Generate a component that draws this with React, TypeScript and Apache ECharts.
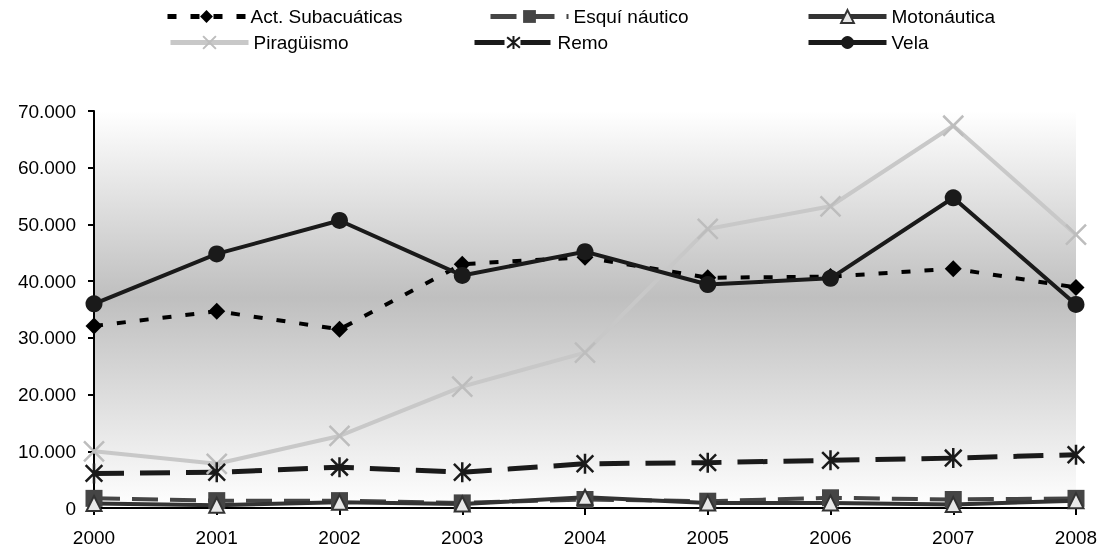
import React, { useEffect, useRef } from "react";
import * as echarts from "echarts";

const years = ["2000", "2001", "2002", "2003", "2004", "2005", "2006", "2007", "2008"];
const actSub = [32100, 34700, 31500, 43000, 44200, 40600, 40800, 42200, 38900];
const esqui = [1700, 1300, 1300, 900, 1500, 1200, 1800, 1500, 1700];
const moto = [800, 500, 1000, 700, 1900, 900, 900, 600, 1300];
const pira = [10000, 7800, 12700, 21400, 27400, 49200, 53200, 67400, 48200];
const remo = [6100, 6300, 7200, 6300, 7800, 8000, 8400, 8800, 9400];
const vela = [36000, 44800, 50700, 41000, 45200, 39400, 40500, 54700, 35900];

const FONT = "'Liberation Sans', Arial, sans-serif";
const FS = 19;

const fmt = (v: number) => String(v).replace(/\B(?=(\d{3})+(?!\d))/g, ".");

export default function App() {
  const ref = useRef<HTMLDivElement>(null);
  useEffect(() => {
    if (!ref.current) return;
    const chart = echarts.init(ref.current, null, { renderer: "svg" });
    const xPath = "path://M0,0L10,10M10,0L0,10";
    const starPath = "path://M0,0L10,10M10,0L0,10M5,-1L5,11";
    const legendBase = {
      padding: 0,
      itemWidth: 78,
      itemHeight: 16,
      lineStyle: { width: 5 },
      textStyle: { fontFamily: FONT, fontSize: 19, color: "#000" },
    };
    const row1 = 7;
    const row2 = 33;
    chart.setOption({
      animation: false,
      textStyle: { fontFamily: FONT },
      legend: [
        { ...legendBase, data: ["Act. Subacuáticas"], left: 165, top: row1 },
        { ...legendBase, data: ["Esquí náutico"], left: 488, top: row1 },
        { ...legendBase, data: ["Motonáutica"], left: 806, top: row1 },
        { ...legendBase, data: ["Piragüismo"], left: 168, top: row2 },
        { ...legendBase, data: ["Remo"], left: 472, top: row2 },
        { ...legendBase, data: ["Vela"], left: 806, top: row2 },
      ],
      grid: {
        left: 94,
        right: 25,
        top: 111,
        bottom: 40,
        show: true,
        borderWidth: 0,
        backgroundColor: new echarts.graphic.LinearGradient(0, 0, 0, 1, [
          { offset: 0, color: "#ffffff" },
          { offset: 0.47, color: "#bfbfbf" },
          { offset: 1, color: "#ffffff" },
        ]),
      },
      xAxis: {
        type: "category",
        data: years,
        boundaryGap: false,
        axisLine: { lineStyle: { color: "#000", width: 2 } },
        axisTick: { show: true, inside: false, length: 7, lineStyle: { color: "#000", width: 2 } },
        axisLabel: { color: "#000", fontFamily: FONT, fontSize: FS, margin: 20 },
        splitLine: { show: false },
      },
      yAxis: {
        type: "value",
        min: 0,
        max: 70000,
        interval: 10000,
        axisLine: { show: true, lineStyle: { color: "#000", width: 2 } },
        axisTick: { show: true, length: 6, lineStyle: { color: "#000", width: 2 } },
        axisLabel: { color: "#000", fontFamily: FONT, fontSize: FS, margin: 18, formatter: fmt },
        splitLine: { show: false },
      },
      series: [
        {
          name: "Act. Subacuáticas",
          type: "line",
          data: actSub,
          symbol: "diamond",
          symbolSize: 17,
          itemStyle: { color: "#000" },
          lineStyle: { color: "#000", width: 4, type: [9, 14] },
        },
        {
          name: "Esquí náutico",
          type: "line",
          data: esqui,
          symbol: "rect",
          symbolSize: 17,
          itemStyle: { color: "#454545" },
          lineStyle: { color: "#454545", width: 4, type: [26, 12] },
        },
        {
          name: "Motonáutica",
          type: "line",
          data: moto,
          symbol: "triangle",
          symbolSize: 15,
          itemStyle: { color: "#e8e8e8", borderColor: "#333", borderWidth: 2 },
          lineStyle: { color: "#333", width: 4 },
        },
        {
          name: "Piragüismo",
          type: "line",
          data: pira,
          symbol: xPath,
          symbolSize: 20,
          symbolKeepAspect: true,
          itemStyle: { color: "none", borderColor: "#bdbdbd", borderWidth: 2.5 },
          lineStyle: { color: "#c8c8c8", width: 4 },
        },
        {
          name: "Remo",
          type: "line",
          data: remo,
          symbol: starPath,
          symbolSize: 20,
          symbolKeepAspect: true,
          itemStyle: { color: "none", borderColor: "#1a1a1a", borderWidth: 2.5 },
          lineStyle: { color: "#1a1a1a", width: 5, type: [30, 16] },
        },
        {
          name: "Vela",
          type: "line",
          data: vela,
          symbol: "circle",
          symbolSize: 17,
          itemStyle: { color: "#1a1a1a" },
          lineStyle: { color: "#1a1a1a", width: 4 },
        },
      ],
    });
    return () => chart.dispose();
  }, []);
  return (
    <div
      ref={ref}
      style={{ position: "fixed", left: 0, top: 0, width: 1101, height: 548 }}
    />
  );
}
